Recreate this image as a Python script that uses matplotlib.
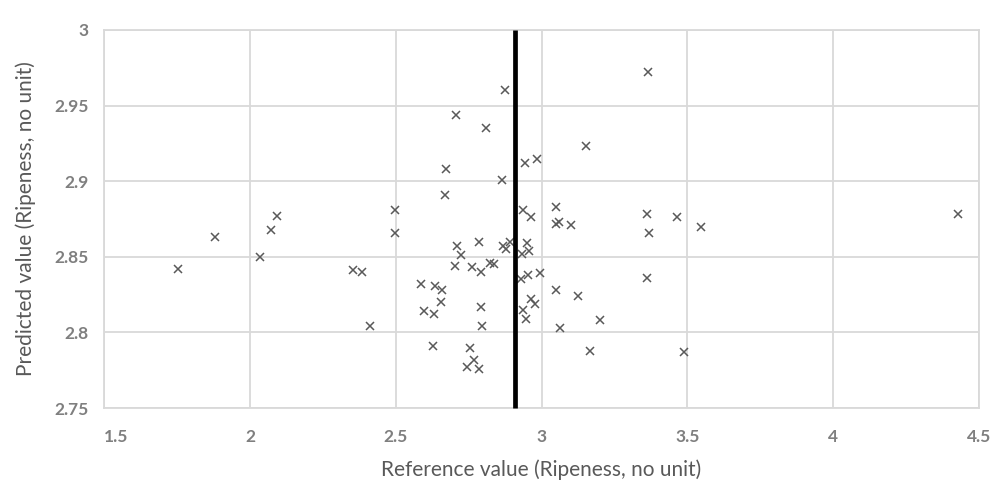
import matplotlib
matplotlib.use("Agg")
import matplotlib.pyplot as plt

# values (reference, predicted)
ref_vals = [1.754, 1.880, 2.034, 2.072, 2.092, 2.354, 2.383, 2.411, 2.498, 2.497,
            2.588, 2.634, 2.657, 2.655, 2.596, 2.631, 2.628, 2.672, 2.668, 2.711,
            2.786, 2.722, 2.703, 2.762, 2.791, 2.823, 2.836, 2.868, 2.877, 2.891,
            2.792, 2.794, 2.754, 2.769, 2.743, 2.786, 2.874, 2.708, 2.809, 2.863,
            3.365, 3.151, 2.943, 2.983, 2.937, 2.962, 3.049, 3.049, 3.060, 3.101,
            3.362, 3.370, 2.951, 2.957, 2.932, 2.954, 2.994, 2.931, 3.362, 3.048,
            3.125, 2.965, 2.976, 2.936, 2.946, 3.063, 3.200, 3.166, 3.463, 3.545,
            4.428, 3.488]
pred_vals = [2.842, 2.863, 2.850, 2.868, 2.877, 2.841, 2.840, 2.804, 2.881, 2.866,
             2.832, 2.831, 2.828, 2.820, 2.814, 2.812, 2.791, 2.908, 2.891, 2.857,
             2.860, 2.851, 2.844, 2.843, 2.840, 2.846, 2.845, 2.857, 2.855, 2.860,
             2.817, 2.804, 2.790, 2.782, 2.777, 2.776, 2.960, 2.944, 2.935, 2.901,
             2.972, 2.923, 2.912, 2.915, 2.881, 2.876, 2.883, 2.872, 2.873, 2.871,
             2.878, 2.866, 2.859, 2.854, 2.852, 2.838, 2.839, 2.835, 2.836, 2.828,
             2.824, 2.822, 2.819, 2.815, 2.809, 2.803, 2.808, 2.788, 2.876, 2.870,
             2.878, 2.787]

# vertical marker line (mean of the reference values)
line_x = 2.909
line_y = [2.75, 3.0]

x_ticks = [1.5, 2, 2.5, 3, 3.5, 4, 4.5]
x_tick_labels = ["1.5", "2", "2.5", "3", "3.5", "4", "4.5"]
y_ticks = [2.75, 2.8, 2.85, 2.9, 2.95, 3]
y_tick_labels = ["2.75", "2.8", "2.85", "2.9", "2.95", "3"]

plt.rcParams["font.family"] = ["Lato", "DejaVu Sans"]

fig = plt.figure(figsize=(10, 4.82), dpi=100)
ax = fig.add_axes([0.1042, 0.1535, 0.8748, 0.7843])

grid_col = "#d9d9d9"
ax.grid(True, color=grid_col, linewidth=1.3)
ax.set_axisbelow(True)
for s in ax.spines.values():
    s.set_color(grid_col)
    s.set_linewidth(1.3)

ax.plot(ref_vals, pred_vals, linestyle="none", marker="x", color="#595959",
        markersize=6, markeredgewidth=1.1, zorder=3)
ax.plot([line_x, line_x], line_y, color="black", linewidth=3.4, zorder=4,
        clip_on=False, solid_capstyle="butt")

ax.set_xlim(1.5, 4.5)
ax.set_ylim(2.75, 3.0)
ax.set_xticks(x_ticks)
ax.set_xticklabels(x_tick_labels)
ax.set_yticks(y_ticks)
ax.set_yticklabels(y_tick_labels)
ax.tick_params(axis="both", length=0, labelsize=12.5, labelcolor="#7f7f7f")
ax.tick_params(axis="x", pad=15)
ax.tick_params(axis="y", pad=11)
for t in ax.get_xticklabels() + ax.get_yticklabels():
    t.set_fontweight("bold")
ax.get_xticklabels()[0].set_horizontalalignment("left")

ax.set_xlabel("Reference value (Ripeness, no unit)", fontsize=15, color="#595959")
ax.set_ylabel("Predicted value (Ripeness, no unit)", fontsize=15, color="#595959")
ax.xaxis.set_label_coords(0.5, -0.162)
ax.xaxis.label.set_verticalalignment("center")
ax.yaxis.set_label_coords(-0.09, 0.5)
ax.yaxis.label.set_verticalalignment("center")

fig.savefig("out.png", dpi=100)
